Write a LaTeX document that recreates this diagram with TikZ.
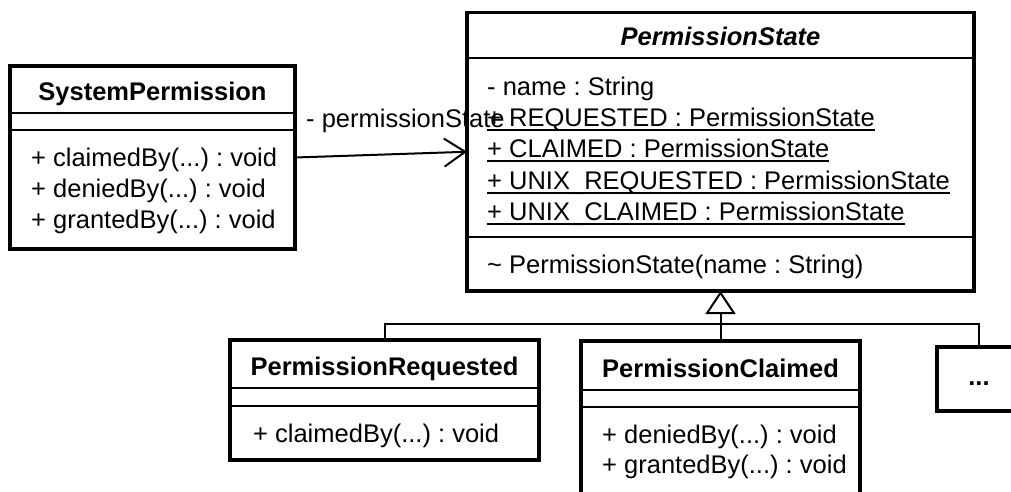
\documentclass[tikz,border=0pt]{standalone}
\usepackage{fontspec}
\setmainfont{Liberation Sans}
\usetikzlibrary{arrows.meta}
\frenchspacing
\newcommand\myul[1]{\setbox0\hbox{#1}\rlap{\rule[-4.5pt]{\wd0}{1.8pt}}\box0}
\begin{document}
\begin{tikzpicture}[x=1pt,y=-1pt,
  cls/.style={draw, line width=3.8pt, inner sep=0pt, outer sep=0pt, anchor=north west},
  sep/.style={line width=1.8pt},
  txt/.style={inner sep=0pt, anchor=base west, font=\fontsize{25.5}{31}\selectfont\frenchspacing},
  hdr/.style={inner sep=0pt, anchor=base, font=\fontsize{25.5}{31}\selectfont\bfseries},
  conn/.style={line width=2pt}]
\useasboundingbox (0,0) rectangle (1011,491);
\clip (0,0) rectangle (1011,491);

% SystemPermission
\node[cls, minimum width=285pt, minimum height=183pt] (sp) at (10,66) {};
\draw[sep] (sp.west |- 0,113) -- (sp.east |- 0,113);
\draw[sep] (sp.west |- 0,130) -- (sp.east |- 0,130);
\node[hdr] (sph) at (152.5,100) {SystemPermission};
\node[txt] (spm1) at (31,166) {+ claimedBy(...) : void};
\node[txt] (spm2) at (31,197) {+ deniedBy(...) : void};
\node[txt] (spm3) at (31,228) {+ grantedBy(...) : void};

% PermissionState
\node[cls, minimum width=507pt, minimum height=278.5pt] (ps) at (467,12.5) {};
\draw[sep] (ps.west |- 0,58) -- (ps.east |- 0,58);
\draw[sep] (ps.west |- 0,237) -- (ps.east |- 0,237);
\node[hdr, font=\fontsize{25.5}{31}\selectfont\bfseries\itshape] (psh) at (720.5,45) {PermissionState};
\node[txt] (psa1) at (487,95) {- name : String};
\node[txt] (psa2) at (487,126) {\myul{+ REQUESTED : PermissionState}};
\node[txt] (psa3) at (487,157) {\myul{+ CLAIMED : PermissionState}};
\node[txt] (psa4) at (487,189) {\myul{+ UNIX\_REQUESTED : PermissionState}};
\node[txt] (psa5) at (487,220) {\myul{+ UNIX\_CLAIMED : PermissionState}};
\node[txt] (psm1) at (487,273) {\textasciitilde{} PermissionState(name : String)};

% PermissionRequested
\node[cls, minimum width=309pt, minimum height=120pt] (pr) at (230,340) {};
\draw[sep] (pr.west |- 0,388) -- (pr.east |- 0,388);
\draw[sep] (pr.west |- 0,406) -- (pr.east |- 0,406);
\node[hdr] (prh) at (384.5,375) {PermissionRequested};
\node[txt] (prm1) at (253,442) {+ claimedBy(...) : void};

% PermissionClaimed
\node[cls, minimum width=279pt, minimum height=180pt] (pc) at (581,341) {};
\draw[sep] (pc.west |- 0,390) -- (pc.east |- 0,390);
\draw[sep] (pc.west |- 0,407) -- (pc.east |- 0,407);
\node[hdr] (pch) at (720.5,377) {PermissionClaimed};
\node[txt] (pcm1) at (602,443) {+ deniedBy(...) : void};
\node[txt] (pcm2) at (602,473) {+ grantedBy(...) : void};

% ...
\node[cls, minimum width=84pt, minimum height=64pt] (dots) at (937,347) {};
\node[hdr] (dotst) at (979,385) {...};

% association
\draw[conn, -{Straight Barb[length=21pt,width=28pt]}] (sp.east) -- (ps.west);
\node[txt] (lbl) at (306,127) {- permissionState};

% generalization
\coordinate (j) at (720.5,324);
\draw[conn] (pr.north) |- (j) -| (dots.north);
\draw[conn, -{Triangle[open,length=23pt,width=30pt]}] (pc.north) -- (ps.south);
\end{tikzpicture}
\end{document}
